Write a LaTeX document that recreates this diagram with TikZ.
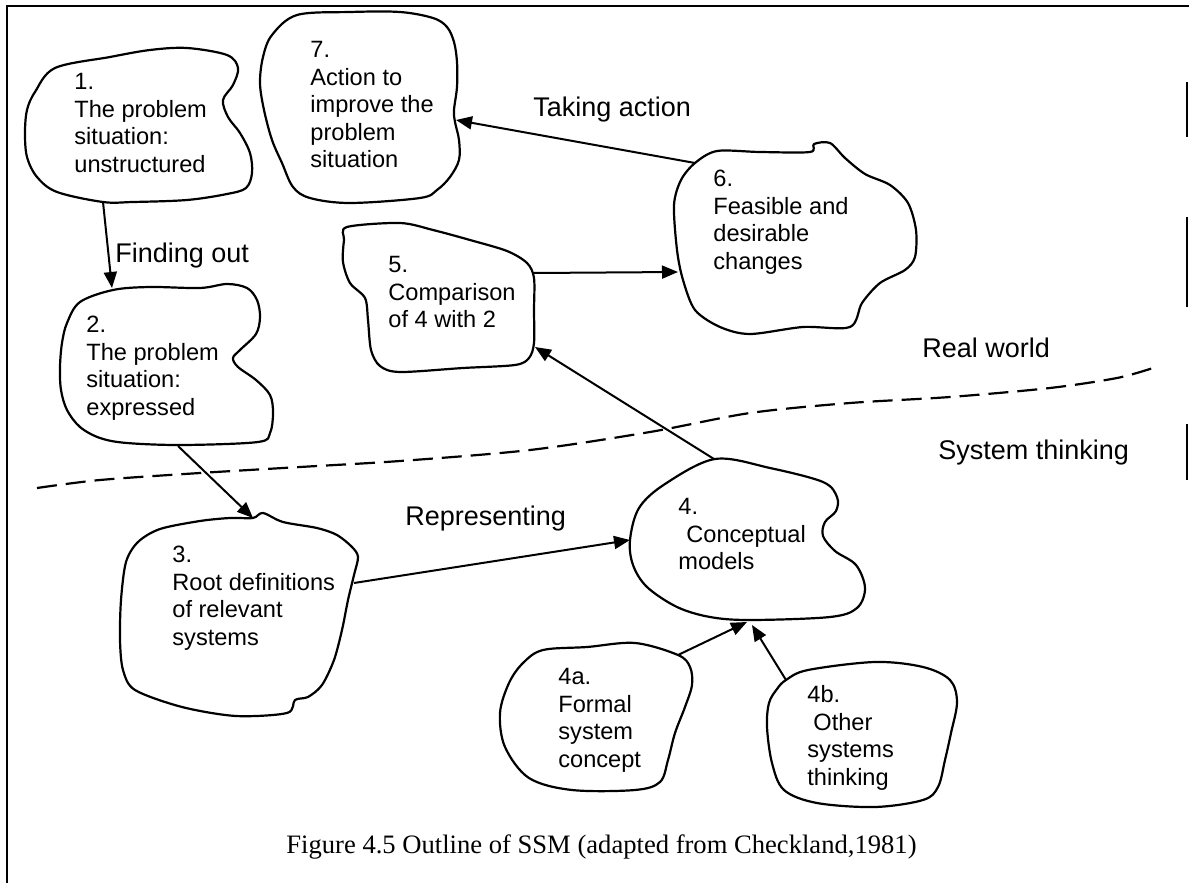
\documentclass[tikz,border=0pt]{standalone}
\usepackage{fontspec}
\setmainfont{Liberation Serif}
\newfontfamily\sansfont{Liberation Sans}
\usetikzlibrary{arrows.meta}
\begin{document}
\begin{tikzpicture}[x=0.5pt,y=-0.5pt,
  blob/.style={draw=black, line width=1.1pt, line join=round},
  flow/.style={draw=black, line width=1pt, -{Triangle[length=8pt,width=6.5pt]}},
  blobtext/.style={anchor=north west, inner sep=0pt, align=left,
    font=\sansfont\fontsize{11.8}{13.75}\selectfont},
  phase/.style={anchor=base west, inner sep=0pt,
    font=\sansfont\fontsize{13.5}{16}\selectfont},
  divider/.style={draw=black, line width=1.1pt, dash pattern=on 10pt off 4.5pt},
  frame/.style={draw=black, line width=1.1pt},
  fragment/.style={draw=black, line width=0.7pt}]

% page area
\fill[white] (0,0) rectangle (1189,883);
\useasboundingbox (0,0) rectangle (1189,883);

% frame (top and left rules, broken fragments on the right)
\draw[frame] (7,883) -- (7,6) -- (1189,6);
\draw[fragment] (1187,82) -- (1187,137);
\draw[fragment] (1187,217) -- (1187,307);
\draw[fragment] (1187,424) -- (1187,480);

% ---- blob outlines ----
% 1. problem situation: unstructured
\draw[blob] plot[smooth cycle, tension=0.55] coordinates {
  (55,68) (110,57) (150,50) (187,48) (227,55) (238,68) (233,85) (223,100)
  (228,117) (240,133) (250,153) (252,173) (246,188) (227,194) (187,200)
  (133,202) (103,202) (57,192) (37,177) (27,157) (25,133) (27,110) (35,92)};
% 7. action to improve
\draw[blob] plot[smooth cycle, tension=0.55] coordinates {
  (297,15) (350,12) (400,12) (433,18) (447,27) (454,42) (457,62) (457,87)
  (454,110) (455,122) (459,140) (459,160) (450,177) (437,190) (420,198)
  (350,203) (310,198) (293,187) (282,163) (272,140) (264,110) (260,83)
  (263,57) (272,35)};
% 2. problem situation: expressed
\draw[blob] plot[smooth cycle, tension=0.55] coordinates {
  (80,302) (113,290) (150,287) (200,288) (227,284) (247,288) (257,300)
  (260,317) (256,334) (240,350) (233,358) (238,367) (256,380) (270,395)
  (273,413) (270,433) (258,442) (183,445) (127,443) (100,438) (80,427)
  (67,410) (61,390) (60,367) (62,343) (67,323)};
% 3. root definitions
\draw[blob] plot[smooth cycle, tension=0.5] coordinates {
  (253,518) (263,513) (283,522) (317,528) (337,535) (352,547) (358,557)
  (354,575) (348,600) (342,630) (334,660) (322,685) (308,697) (295,700)
  (287,713) (236,716) (182,707) (135,690) (123,670) (120,640) (121,600)
  (126,562) (138,542) (160,529) (200,521) (230,518)};
% 5. comparison
\draw[blob] plot[smooth cycle, tension=0.5] coordinates {
  (347,227) (400,223) (433,230) (470,240) (507,251) (527,263) (534,278)
  (534,310) (534,343) (529,358) (515,365) (463,368) (400,372) (380,366)
  (371,350) (368,320) (365,298) (350,283) (343,262) (344,240)};
% 6. feasible and desirable changes
\draw[blob] plot[smooth cycle, tension=0.5] coordinates {
  (695,163) (717,151) (760,152) (810,152) (814,144) (830,143) (845,158)
  (865,174) (890,185) (908,203) (916,230) (915,257) (905,270) (880,283)
  (862,303) (850,327) (803,327) (750,334) (720,327) (695,310) (683,280)
  (677,250) (674,205) (681,180)};
% 4. conceptual models
\draw[blob] plot[smooth cycle, tension=0.55] coordinates {
  (715,459) (770,468) (823,482) (837,497) (836,511) (825,522) (823,536)
  (835,551) (856,565) (865,588) (857,608) (830,617) (750,620) (710,617)
  (677,607) (647,587) (633,565) (630,540) (639,508) (665,484)};
% 4a. formal system concept
\draw[blob] plot[smooth cycle, tension=0.55] coordinates {
  (543,650) (587,647) (635,643) (678,655) (690,667) (692,685) (685,707)
  (675,733) (668,760) (660,782) (635,790) (572,790) (529,778) (505,747)
  (500,713) (509,683) (523,663)};
% 4b. other systems thinking
\draw[blob] plot[smooth cycle, tension=0.55] coordinates {
  (786,680) (808,670) (875,662) (923,667) (950,680) (957,702) (951,733)
  (945,760) (938,787) (923,800) (875,807) (817,803) (784,790) (772,763)
  (767,727) (769,703) (777,689)};

% ---- blob texts ----
\node[blobtext] (t1) at (74,73) {1.\\The problem\\situation:\\unstructured};
\node[blobtext] (t7) at (310,41) {7.\\Action to\\improve the\\problem\\situation};
\node[blobtext] (t2) at (86,316) {2.\\The problem\\situation:\\expressed};
\node[blobtext] (t3) at (172,546) {3.\\Root definitions\\of relevant\\systems};
\node[blobtext] (t5) at (388,256) {5.\\Comparison\\of 4 with 2};
\node[blobtext] (t6) at (713,170) {6.\\Feasible and\\desirable\\changes};
\node[blobtext] (t4) at (678,498) {4.\\\hspace{4pt}Conceptual\\models};
\node[blobtext] (t4a) at (558,668) {4a.\\Formal\\system\\concept};
\node[blobtext] (t4b) at (807,685) {4b.\\\hspace{3pt}Other\\systems\\thinking};

% ---- attachment points on the outlines ----
\coordinate (b1-out) at (103,202);
\coordinate (b2-in) at (112,288);
\coordinate (b2-out) at (178,446);
\coordinate (b3-in) at (253,518);
\coordinate (b3-out) at (354,583);
\coordinate (b4-in) at (630,540);
\coordinate (b4-out) at (714,459);
\coordinate (b5-in) at (535,347);
\coordinate (b5-out) at (534,273);
\coordinate (b6-in) at (678,272);
\coordinate (b6-out) at (695,163);
\coordinate (b7-in) at (456,120);
\coordinate (b4a-out) at (678,655);
\coordinate (b4b-out) at (786,680);
\coordinate (b4-ina) at (747,622);
\coordinate (b4-inb) at (752,625);

% ---- connectors ----
\draw[flow] (b1-out) -- (b2-in);
\draw[flow] (b2-out) -- (b3-in);
\draw[flow] (b3-out) -- (b4-in);
\draw[flow] (b4-out) -- (b5-in);
\draw[flow] (b5-out) -- (b6-in);
\draw[flow] (b6-out) -- (b7-in);
\draw[flow] (b4a-out) -- (b4-ina);
\draw[flow] (b4b-out) -- (b4-inb);

% ---- stage labels ----
\node[phase] (finding) at (115,262) {Finding out};
\node[phase] (taking) at (533,117) {Taking action};
\node[phase] (repr) at (405,525) {Representing};
\node[phase] (real) at (922,357) {Real world};
\node[phase] (systhink) at (938,459) {System thinking};

% boundary between the real world and systems thinking
\draw[divider] plot[smooth, tension=0.5] coordinates {
  (37,488) (100,480) (200,473) (300,467) (400,461) (530,450) (650,432)
  (750,413) (850,403) (950,397) (1050,388) (1117,378) (1153,368)};

% caption
\node[anchor=base west, inner sep=0pt, font=\fontsize{13.3}{16}\selectfont]
  (caption) at (286,853) {Figure 4.5 Outline of SSM (adapted from Checkland,1981)};

\end{tikzpicture}
\end{document}
